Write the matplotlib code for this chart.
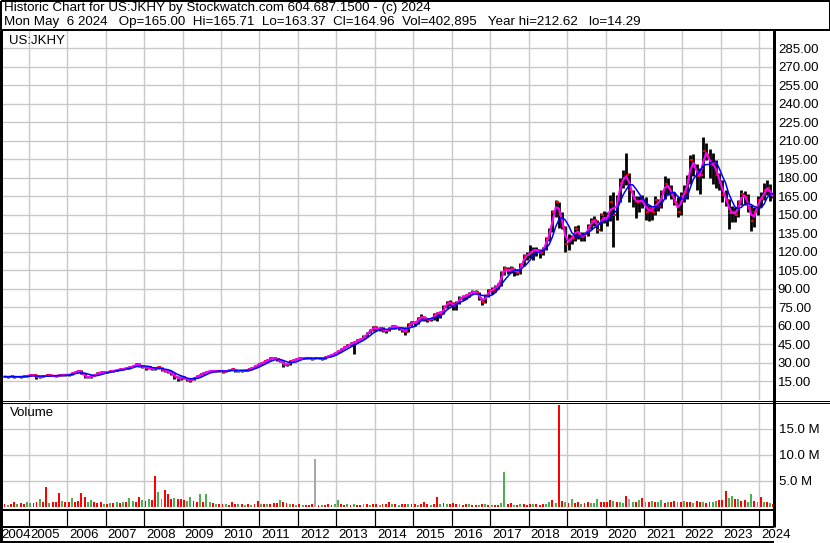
import numpy as np
import pandas as pd
import matplotlib
matplotlib.use('Agg')
import matplotlib.pyplot as plt
import matplotlib.transforms as mtransforms

W, H = 830, 543
PX = 0.72  # 1 pixel em pontos (dpi 100)

# Dados mensais US:JKHY, maio 2004 - maio 2024 (uma linha por ano)
close = [
    [18.6, 18.3, 18.8, 18.2, 18.5, 18.4, 19.0, 19.2],
    [20.0, 19.5, 18.0, 18.5, 19.0, 19.5, 19.5, 19.3, 19.0, 19.8, 20.0, 20.0],
    [20.0, 21.5, 22.5, 23.5, 21.0, 18.5, 18.0, 19.0, 20.0, 21.5, 22.0, 22.0],
    [22.5, 23.0, 23.5, 24.0, 24.5, 25.0, 25.5, 26.5, 27.0, 29.0, 27.5, 26.5],
    [25.5, 26.0, 24.5, 25.5, 26.0, 24.0, 23.0, 22.5, 21.0, 18.5, 16.5, 18.5],
    [17.5, 15.5, 16.0, 17.5, 19.0, 20.5, 21.5, 22.5, 23.5, 23.0, 23.0, 23.5],
    [22.5, 23.0, 24.0, 24.5, 23.5, 23.0, 23.5, 23.5, 24.5, 25.5, 27.0, 28.5],
    [29.5, 31.0, 32.0, 33.5, 33.5, 32.5, 31.0, 28.0, 28.5, 31.0, 32.0, 33.0],
    [33.5, 33.5, 34.0, 33.5, 33.0, 33.5, 33.5, 33.0, 34.5, 35.5, 36.5, 38.0],
    [39.5, 41.0, 42.5, 44.0, 45.5, 46.5, 48.0, 49.0, 51.0, 54.0, 56.5, 58.5],
    [57.0, 58.0, 55.5, 56.0, 58.0, 59.5, 59.0, 58.0, 56.0, 55.0, 61.0, 62.5],
    [62.0, 66.0, 67.0, 66.0, 64.5, 65.0, 69.0, 70.5, 69.5, 75.0, 79.0, 78.0],
    [76.0, 78.5, 82.5, 83.5, 84.5, 86.5, 87.5, 87.0, 82.0, 79.5, 84.0, 88.5],
    [89.0, 91.5, 93.0, 103.0, 106.5, 104.0, 106.5, 104.0, 103.0, 109.5, 116.5, 117.0],
    [120.0, 121.5, 121.0, 118.5, 122.5, 130.5, 136.5, 152.0, 160.0, 150.0, 140.0, 126.0],
    [130.0, 131.0, 138.5, 134.0, 132.0, 134.0, 140.0, 144.5, 146.0, 137.5, 149.5, 145.5],
    [148.0, 160.0, 150.0, 163.0, 176.0, 180.0, 182.0, 170.0, 163.0, 160.0, 161.0, 162.0],
    [152.0, 155.0, 152.0, 162.0, 157.0, 168.0, 175.0, 172.0, 166.0, 160.0, 152.0, 165.0],
    [168.0, 178.0, 194.0, 190.0, 181.0, 182.0, 202.0, 198.0, 191.0, 192.0, 182.0, 176.0],
    [166.0, 162.0, 151.0, 152.0, 150.0, 160.0, 167.0, 164.0, 155.0, 145.0, 152.0, 162.0],
    [163.0, 170.0, 172.0, 166.0, 164.96],
]
high = [
    [19.3, 19.0, 19.4, 19.0, 19.0, 19.1, 19.6, 19.8],
    [20.6, 20.4, 19.8, 19.2, 19.6, 20.1, 20.2, 20.0, 19.8, 20.4, 20.6, 20.7],
    [20.8, 22.0, 23.2, 24.2, 23.8, 21.2, 19.2, 19.6, 20.6, 22.2, 22.8, 22.6],
    [23.2, 23.8, 24.2, 24.8, 25.3, 25.8, 26.3, 27.2, 27.8, 30.0, 29.6, 28.3],
    [27.0, 26.8, 26.4, 26.2, 26.8, 26.4, 24.5, 24.0, 23.2, 21.5, 19.0, 19.2],
    [19.0, 17.8, 16.8, 18.2, 19.6, 21.0, 22.0, 23.2, 24.0, 24.0, 23.6, 24.0],
    [23.8, 23.5, 24.4, 25.2, 25.0, 24.0, 24.0, 24.2, 25.0, 26.0, 27.6, 29.2],
    [30.2, 31.6, 32.6, 34.2, 34.5, 34.0, 33.2, 31.2, 29.6, 31.8, 32.8, 33.8],
    [34.3, 34.2, 34.7, 34.4, 34.0, 34.3, 34.2, 34.0, 35.2, 36.3, 37.3, 38.8],
    [40.5, 41.8, 43.4, 45.0, 46.5, 47.8, 48.8, 50.0, 52.0, 55.0, 57.5, 59.5],
    [60.0, 59.0, 59.0, 57.0, 59.0, 60.5, 60.2, 59.2, 58.8, 58.5, 62.0, 63.5],
    [63.8, 66.8, 69.0, 67.5, 66.5, 66.0, 70.0, 71.0, 71.5, 77.0, 80.0, 80.5],
    [79.0, 80.0, 84.0, 85.0, 86.0, 87.5, 88.5, 88.5, 87.5, 82.5, 86.0, 90.0],
    [91.0, 93.0, 94.5, 104.5, 108.0, 107.5, 108.0, 107.0, 105.5, 111.0, 118.0, 119.5],
    [125.0, 124.0, 124.0, 122.5, 124.0, 132.0, 139.5, 153.5, 161.5, 160.5, 152.0, 141.0],
    [134.0, 133.5, 140.5, 141.5, 136.0, 136.0, 142.0, 147.5, 149.0, 146.0, 151.0, 153.0],
    [152.0, 166.0, 168.0, 166.0, 180.0, 186.0, 200.0, 184.0, 170.0, 165.0, 165.0, 166.0],
    [164.0, 158.0, 156.0, 165.0, 163.0, 170.0, 181.0, 180.0, 174.0, 168.0, 164.0, 168.0],
    [174.0, 182.0, 198.0, 199.0, 191.0, 188.0, 212.62, 208.0, 203.0, 200.0, 194.0, 184.0],
    [178.0, 170.0, 163.0, 157.0, 156.0, 162.0, 170.0, 169.0, 167.0, 158.0, 156.0, 165.0],
    [168.0, 176.0, 178.0, 175.0, 167.5],
]
low = [
    [17.9, 17.8, 18.0, 17.6, 17.9, 17.8, 18.3, 18.6],
    [19.0, 19.0, 16.6, 17.6, 18.2, 18.8, 18.9, 18.7, 18.4, 18.8, 19.4, 19.4],
    [19.3, 19.8, 21.2, 22.3, 20.5, 17.6, 17.3, 17.8, 18.8, 19.8, 21.2, 21.3],
    [21.6, 22.2, 22.5, 23.2, 23.7, 24.2, 24.6, 24.8, 26.0, 26.8, 26.6, 25.6],
    [24.2, 24.8, 23.8, 24.3, 25.0, 23.4, 22.0, 21.8, 20.2, 16.8, 15.4, 16.2],
    [16.8, 15.0, 14.29, 15.6, 17.4, 18.8, 20.2, 21.3, 22.3, 22.4, 22.2, 22.6],
    [21.8, 22.0, 22.8, 23.8, 22.6, 22.4, 22.5, 22.8, 23.3, 24.3, 25.3, 26.8],
    [28.3, 29.3, 30.5, 31.8, 32.6, 31.5, 30.4, 26.3, 26.8, 28.1, 30.6, 31.8],
    [32.6, 32.8, 33.1, 32.8, 32.2, 32.6, 32.7, 32.4, 32.8, 34.4, 35.2, 36.3],
    [37.8, 39.3, 40.7, 42.2, 43.8, 37.0, 46.2, 47.8, 48.8, 50.6, 53.6, 55.8],
    [55.5, 55.8, 54.8, 53.8, 55.5, 57.5, 57.5, 56.8, 55.0, 52.0, 54.8, 60.0],
    [60.0, 61.5, 64.5, 64.0, 63.2, 63.5, 64.5, 64.0, 66.5, 69.0, 74.5, 76.0],
    [72.5, 73.0, 77.5, 80.5, 81.5, 83.0, 85.5, 85.5, 80.5, 77.0, 78.5, 83.0],
    [86.0, 87.5, 90.0, 92.0, 101.0, 101.5, 102.5, 100.5, 101.0, 102.0, 108.0, 113.0],
    [115.0, 113.5, 116.5, 114.5, 117.0, 121.0, 129.0, 136.0, 148.0, 139.0, 138.0, 120.0],
    [121.0, 126.5, 129.0, 130.5, 128.5, 129.0, 133.0, 138.0, 141.0, 135.0, 136.5, 143.5],
    [141.0, 145.0, 124.0, 146.0, 160.0, 172.0, 174.0, 160.0, 156.0, 147.0, 152.0, 155.0],
    [146.0, 145.0, 145.5, 150.0, 153.0, 155.0, 163.0, 166.0, 163.0, 158.0, 148.0, 150.0],
    [160.0, 163.0, 175.0, 181.0, 170.0, 167.0, 180.0, 194.0, 180.0, 175.0, 172.0, 170.0],
    [160.0, 157.0, 138.0, 144.0, 144.0, 148.0, 158.0, 158.0, 152.0, 137.0, 140.0, 150.0],
    [156.0, 162.0, 166.0, 161.0, 163.4],
]
# volume (milhoes) - maior sessao do mes
volume = [
    [0.6, 0.4, 0.5, 0.9, 0.5, 0.7, 0.6, 1.0],
    [0.8, 0.7, 1.0, 1.5, 0.9, 3.8, 0.8, 1.0, 0.9, 2.6, 1.2, 1.0],
    [1.0, 1.7, 1.0, 1.2, 2.6, 1.9, 0.9, 1.3, 1.0, 0.8, 0.9, 0.6],
    [0.6, 0.7, 0.8, 0.9, 0.8, 1.0, 1.0, 1.7, 1.1, 1.0, 1.9, 1.3],
    [1.2, 1.5, 1.3, 5.9, 2.8, 1.5, 3.3, 2.4, 1.6, 1.8, 1.6, 1.6],
    [1.3, 1.2, 2.0, 1.1, 1.0, 2.4, 1.0, 2.4, 0.9, 0.8, 0.6, 0.6],
    [0.5, 0.5, 0.4, 0.9, 0.6, 0.5, 0.5, 0.4, 0.5, 0.4, 0.6, 1.1],
    [0.6, 0.5, 0.6, 0.6, 0.7, 0.8, 1.4, 0.9, 0.7, 0.6, 0.5, 0.4],
    [0.5, 0.4, 0.4, 0.3, 0.5, 9.3, 0.4, 0.3, 0.4, 0.5, 0.4, 0.6],
    [1.3, 0.5, 0.4, 0.6, 0.4, 0.5, 0.4, 0.4, 0.5, 0.6, 0.4, 0.5],
    [0.5, 0.4, 0.6, 0.5, 0.9, 0.5, 0.6, 0.4, 0.5, 0.6, 0.5, 0.5],
    [0.5, 0.4, 0.6, 1.0, 0.5, 0.4, 0.5, 1.9, 0.6, 0.7, 0.5, 0.6],
    [0.8, 0.6, 0.5, 0.4, 0.6, 0.5, 0.3, 0.4, 0.3, 0.6, 0.5, 0.3],
    [0.3, 0.3, 0.3, 0.8, 6.7, 0.5, 0.7, 0.4, 0.4, 0.6, 0.5, 0.4],
    [0.5, 0.6, 0.5, 0.4, 0.6, 0.5, 0.9, 1.4, 0.7, 19.6, 1.2, 0.9],
    [0.8, 1.5, 0.7, 0.9, 0.6, 0.8, 0.9, 0.7, 0.8, 1.6, 0.9, 1.0],
    [0.9, 1.3, 1.1, 1.0, 0.9, 0.8, 2.2, 1.5, 1.0, 0.9, 1.4, 1.8],
    [1.0, 0.9, 1.1, 0.9, 1.0, 1.3, 0.8, 0.9, 1.0, 1.2, 0.9, 1.0],
    [1.2, 0.9, 1.0, 0.8, 1.1, 0.9, 1.0, 0.8, 1.0, 0.9, 1.1, 1.3],
    [1.4, 3.1, 1.7, 2.1, 1.5, 1.6, 1.2, 1.3, 1.0, 2.5, 1.2, 1.0],
    [1.9, 1.0, 0.9, 0.8, 0.5],
]
# sessao de maior volume: u = alta, d = baixa, f = sem variacao
vol_dir = [
    'dudduddu', 'udduddudddud', 'dudddduudddu', 'dudududuuddu',
    'dudduudddudd', 'duudduduudud', 'dudddudududd', 'ududdduddudu',
    'dudddfdudddu', 'uddududdudud', 'dudddududdud', 'duddduddudud',
    'ddudduddudud', 'udduuddududd', 'duddduududdu', 'duddudduuudd',
    'dduduudfudud', 'ududuududdud', 'udduddudduud', 'dduududduudu',
    'dudud',
]

price_ticks = list(range(15, 286, 15))
vol_ticks = [5, 10, 15]
years = list(range(2005, 2025))

header1 = 'Historic Chart for US:JKHY by Stockwatch.com 604.687.1500 - (c) 2024'
header2 = ('Mon May  6 2024   Op=165.00  Hi=165.71  Lo=163.37  Cl=164.96  '
           'Vol=402,895   Year hi=212.62   lo=14.29')


def flat(rows):
    return [v for r in rows for v in r]


def box(x0, y0, x1, y1):
    # retangulo em pixels (origem no topo) -> coordenadas da figura
    return [x0 / W, 1 - y1 / H, (x1 - x0) / W, (y1 - y0) / H]


def build_frame():
    dates = pd.date_range('2004-05-01', '2024-05-01', freq='MS') + pd.Timedelta(days=14)
    dates = dates[:-1].append(pd.DatetimeIndex(['2024-05-06']))
    df = pd.DataFrame({
        'Close': flat(close), 'High': flat(high), 'Low': flat(low),
        'Volume': flat(volume), 'Dir': list(''.join(vol_dir)),
    }, index=dates)
    df['MA_fast'] = df['Close'].rolling(2, min_periods=1).mean()
    df['MA_slow'] = df['Close'].rolling(5, min_periods=1).mean()
    return df


def main():
    df = build_frame()
    xmin, xmax = pd.Timestamp('2004-05-01'), pd.Timestamp('2024-05-10')
    year_starts = [pd.Timestamp(f'{y}-01-01') for y in years]
    grid_c = '#c8c8c8'
    plt.rcParams['font.family'] = ['Liberation Sans', 'DejaVu Sans']

    fig = plt.figure(figsize=(W / 100, H / 100), dpi=100)

    # painel de precos
    ax = fig.add_axes(box(3, 31, 773, 400))
    ax.vlines(df.index, df['Low'], df['High'], color='black', lw=2.0, zorder=3)
    ax.plot(df.index, df['Close'], ls='none', marker=1, ms=2.5, mew=1.4,
            color='red', zorder=4)
    ax.plot(df.index, df['MA_fast'], color='#ff00ff', lw=1.5, zorder=5)
    ax.plot(df.index, df['MA_slow'], color='#0000ff', lw=1.1, zorder=6)
    ax.set_xlim(xmin, xmax)
    ax.set_ylim(-0.4, 299)
    ax.set_xticks(year_starts)
    ax.set_yticks(price_ticks)
    ax.set_yticklabels([f'{v:.2f}' for v in price_ticks])
    ax.yaxis.tick_right()
    ax.tick_params(axis='x', length=0, labelbottom=False)
    ax.tick_params(axis='y', length=0, pad=3.5, labelsize=9.5)
    ax.grid(True, color=grid_c, lw=1.4 * PX)
    for s in ax.spines.values():
        s.set_visible(False)
    ax.text(6 / 770, 1 - 10 / 369, 'US:JKHY', transform=ax.transAxes,
            fontsize=9.5, ha='left', va='center')

    # painel de volume
    av = fig.add_axes(box(3, 403, 773, 508))
    colors = df['Dir'].map({'u': '#4caf50', 'd': '#ff0000', 'f': '#a8a8a8'})
    av.bar(df.index, df['Volume'], width=18, color=colors, zorder=3)
    av.set_xlim(xmin, xmax)
    av.set_ylim(-0.2, 20.0)
    av.set_xticks(year_starts)
    av.set_yticks(vol_ticks)
    av.set_yticklabels([f'{v:.1f} M' for v in vol_ticks])
    av.yaxis.tick_right()
    av.tick_params(axis='x', length=0, labelbottom=False)
    av.tick_params(axis='y', length=0, pad=4.5, labelsize=9.5)
    av.grid(True, color=grid_c, lw=1.4 * PX)
    for s in av.spines.values():
        s.set_visible(False)
    av.text(7 / 770, 1 - 10 / 105, 'Volume', transform=av.transAxes,
            fontsize=9.5, ha='left', va='center')

    # faixa de separadores dos anos
    ab = fig.add_axes(box(3, 510, 773, 527))
    ab.set_xlim(xmin, xmax)
    ab.vlines(year_starts, 0, 1, color='black', lw=1.2 * PX)
    ab.set_ylim(0, 1)
    ab.axis('off')

    # rotulos dos anos
    al = fig.add_axes(box(3, 527, 773, 542))
    al.set_xlim(xmin, xmax)
    al.axis('off')
    tr = al.get_xaxis_transform()
    right = mtransforms.offset_copy(tr, fig=fig, x=2, y=0, units='dots')
    for y, ys in zip(years, year_starts):
        al.text(ys, 0.5, str(y), transform=right, ha='left', va='center',
                fontsize=9.5, clip_on=False)

    # molduras e cabecalho
    ov = fig.add_axes([0, 0, 1, 1], zorder=10)
    ov.set_xlim(0, W)
    ov.set_ylim(H, 0)
    ov.axis('off')
    ov.patch.set_alpha(0)
    k = dict(color='black', solid_capstyle='butt')
    ov.plot([0.5, 829.5, 829.5, 0.5, 0.5], [0.5, 0.5, 30, 30, 0.5], lw=2 * PX, **k)
    ov.plot([1, 1], [30, 543], lw=3 * PX, **k)
    ov.plot([774, 774], [30, 527], lw=3 * PX, **k)
    ov.plot([0, 830], [400.5, 400.5], lw=1 * PX, **k)
    ov.plot([0, 830], [402.5, 402.5], lw=1 * PX, **k)
    for yy in (510, 527, 542):
        ov.plot([0, 774], [yy, yy], lw=2 * PX, **k)
    ov.text(1, 534.5, '2004', fontsize=9.5, ha='left', va='center', zorder=0)
    ov.text(4, 8, header1, fontsize=9.6, ha='left', va='center')
    ov.text(4, 21.5, header2, fontsize=9.6, ha='left', va='center')

    fig.savefig('out.png', dpi=100)


if __name__ == '__main__':
    main()
